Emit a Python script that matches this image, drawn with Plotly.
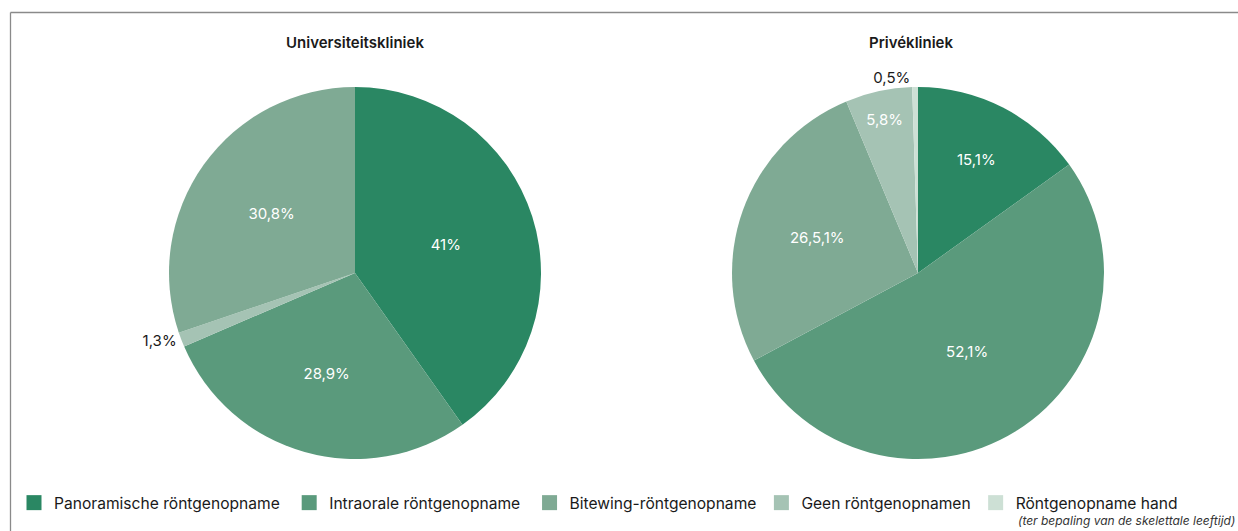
import plotly.graph_objects as go

# Data
categories = ["Panoramische röntgenopname", "Intraorale röntgenopname",
              "Bitewing-röntgenopname", "Geen röntgenopnamen", "Röntgenopname hand"]
legend_pad = ["\u00a0", "\u00a0", "", "", ""]
hand_note = "(ter bepaling van de skelettale leeftijd)"
colors = {"Panoramische röntgenopname": "#2a8763",
          "Intraorale röntgenopname": "#5a9a7c",
          "Bitewing-röntgenopname": "#7faa94",
          "Geen röntgenopnamen": "#a5c3b4",
          "Röntgenopname hand": "#cde0d5"}

# Universiteitskliniek (clockwise order as drawn)
uni_labels = ["Panoramische röntgenopname", "Intraorale röntgenopname",
              "Geen röntgenopnamen", "Bitewing-röntgenopname"]
uni_values = [41, 28.9, 1.3, 30.8]
uni_text = ["41%", "28,9%", "1,3%", "30,8%"]
uni_pos = ["inside", "inside", "outside", "inside"]

# Privékliniek
priv_labels = ["Panoramische röntgenopname", "Intraorale röntgenopname",
               "Bitewing-röntgenopname", "Geen röntgenopnamen", "Röntgenopname hand"]
priv_values = [15.1, 52.1, 26.5, 5.8, 0.5]
priv_text = ["15,1%", "52,1%", "26,5,1%", "5,8%", "0,5%"]
priv_pos = ["inside", "inside", "inside", "inside", "outside"]

W, H = 1238, 531
FONT = "Inter"

def txtcolors(pos):
    return ["white" if p == "inside" else "#1a1a1a" for p in pos]

fig = go.Figure()
fig.add_trace(go.Pie(
    labels=priv_labels, values=priv_values, text=priv_text,
    textinfo="text", textposition=priv_pos, sort=False, direction="clockwise",
    rotation=0, marker=dict(colors=[colors[l] for l in priv_labels], line=dict(width=0)),
    textfont=dict(family=FONT, size=15, color=txtcolors(priv_pos)),
    insidetextorientation="horizontal", showlegend=False,
    domain=dict(x=[732 / W, 1104 / W], y=[1 - 459 / H, 1 - 87 / H]),
    hoverinfo="label+text",
))
fig.add_trace(go.Pie(
    labels=uni_labels, values=uni_values, text=uni_text,
    textinfo="text", textposition=uni_pos, sort=False, direction="clockwise",
    rotation=0, marker=dict(colors=[colors[l] for l in uni_labels], line=dict(width=0)),
    textfont=dict(family=FONT, size=15, color=txtcolors(uni_pos)),
    insidetextorientation="horizontal", showlegend=False,
    domain=dict(x=[169 / W, 541 / W], y=[1 - 459 / H, 1 - 87 / H]),
    hoverinfo="label+text",
))

# Legend entries (dummy traces with square markers)
for cat, pad in zip(categories, legend_pad):
    fig.add_trace(go.Scatter(
        x=[None], y=[None], mode="markers", name=cat + pad,
        marker=dict(symbol="square", size=15, color=colors[cat]),
        showlegend=True, hoverinfo="skip",
    ))

fig.update_layout(
    width=W, height=H,
    margin=dict(l=0, r=0, t=0, b=0),
    paper_bgcolor="white", plot_bgcolor="white",
    font=dict(family=FONT, size=15, color="#1a1a1a"),
    xaxis=dict(visible=False), yaxis=dict(visible=False),
    legend=dict(orientation="h", x=14 / W, xanchor="left", y=1 - 503 / H, yanchor="middle",
                font=dict(family=FONT, size=15.6, color="#1a1a1a"),
                itemwidth=30, tracegroupgap=0,
                bgcolor="rgba(0,0,0,0)"),
    annotations=[
        dict(text="Universiteitskliniek", x=355 / W, y=1 - 42 / H, xref="paper", yref="paper",
             showarrow=False, font=dict(family=FONT, size=15, color="#1a1a1a", weight=600),
             xanchor="center", yanchor="middle"),
        dict(text="Privékliniek", x=911 / W, y=1 - 42 / H, xref="paper", yref="paper",
             showarrow=False, font=dict(family=FONT, size=15, color="#1a1a1a", weight=600),
             xanchor="center", yanchor="middle"),
        dict(text="<i>" + hand_note + "</i>", x=1016 / W, y=1 - 520 / H, xref="paper", yref="paper",
             showarrow=False, font=dict(family=FONT, size=12, color="#333333"),
             xanchor="left", yanchor="middle"),
    ],
    shapes=[
        dict(type="line", xref="paper", yref="paper", x0=10.5 / W, x1=1.01, y0=1 - 12.5 / H, y1=1 - 12.5 / H,
             line=dict(color="#8a8a8a", width=1.3)),
        dict(type="line", xref="paper", yref="paper", x0=10.5 / W, x1=10.5 / W, y0=1 - 12.5 / H, y1=-0.01,
             line=dict(color="#8a8a8a", width=1.3)),
    ],
)

fig.write_html("out.html", config={"displayModeBar": False},
               post_script="document.body.style.margin='0';document.body.style.overflow='hidden';")
